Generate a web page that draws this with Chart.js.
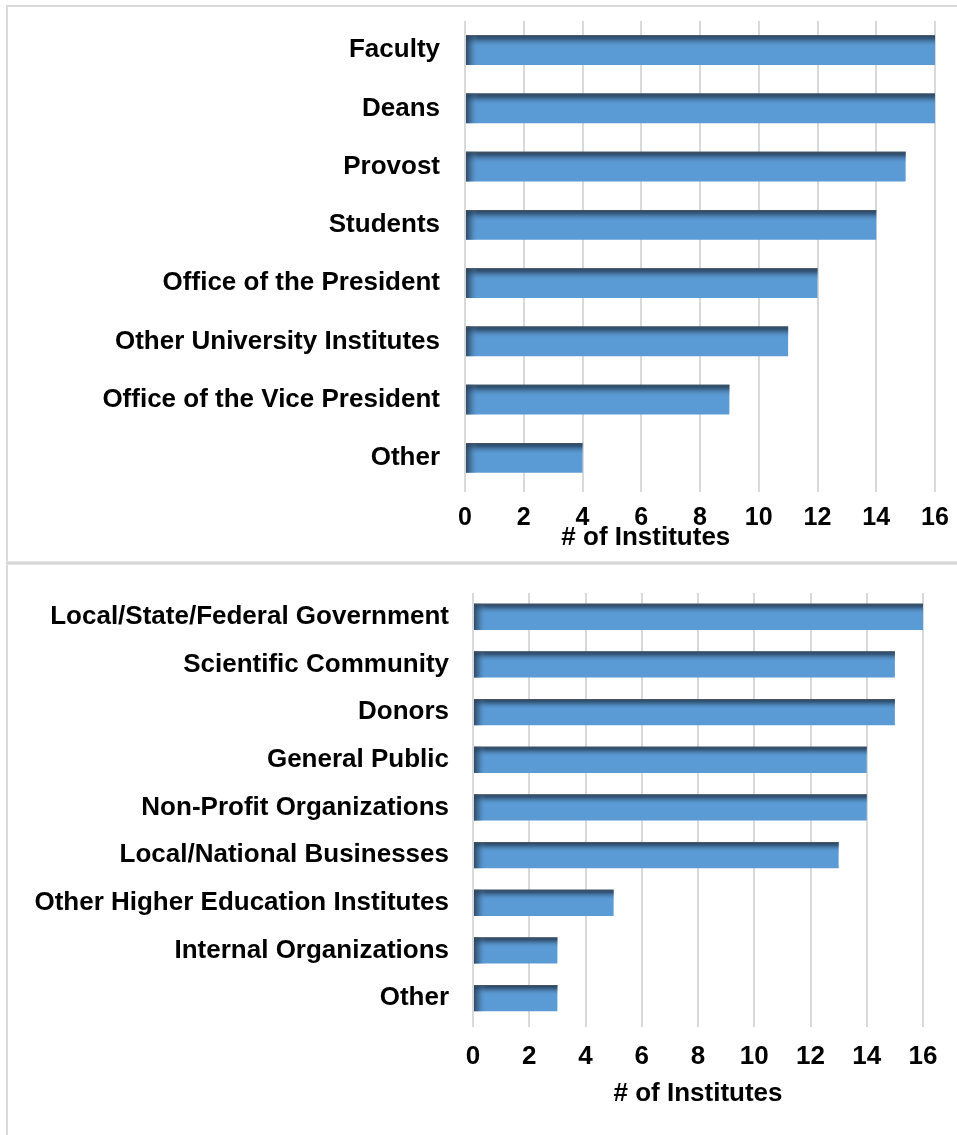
<!DOCTYPE html>
<html>
<head>
<meta charset="utf-8">
<script src="https://cdn.jsdelivr.net/npm/chart.js@4.4.1/dist/chart.umd.min.js"></script>
<style>
  body { margin: 0; background: #fff; }
  #page { position: relative; width: 957px; height: 1135px; overflow: hidden; }
  .line { position: absolute; background: #d9d9d9; }
  canvas { position: absolute; }
</style>
</head>
<body>
<div id="page">
  <div class="line" style="left:6px;top:5px;width:2px;height:1130px;"></div>
  <div class="line" style="left:6px;top:5px;width:951px;height:2px;"></div>
  <div class="line" style="left:6px;top:561px;width:951px;height:4px;background:#e4e4e4;"></div>
  <div class="line" style="left:6px;top:562px;width:951px;height:2px;background:#d6d6d6;"></div>
  <canvas id="topChart" style="left:8px;top:7px;"></canvas>
  <canvas id="bottomChart" style="left:8px;top:566px;"></canvas>
</div>
<script>
// Chart 1: internal stakeholders
const internalLabels = ['Faculty', 'Deans', 'Provost', 'Students', 'Office of the President',
  'Other University Institutes', 'Office of the Vice President', 'Other'];
const internalValues = [16, 16, 15, 14, 12, 11, 9, 4];

// Chart 2: external stakeholders
const externalLabels = ['Local/State/Federal Government', 'Scientific Community', 'Donors',
  'General Public', 'Non-Profit Organizations', 'Local/National Businesses',
  'Other Higher Education Institutes', 'Internal Organizations', 'Other'];
const externalValues = [16, 15, 15, 14, 14, 13, 5, 3, 3];

const xTicks = [0, 2, 4, 6, 8, 10, 12, 14, 16];
const axisTitle = '# of Institutes';

const BAR_BLUE = '#5b9bd5';
const GRID = '#d9d9d9';
const FONT = '"Liberation Sans", Arial, sans-serif';

// Office-style shading on each bar: dark top edge and dark left edge
const barShade = {
  id: 'barShade',
  afterDatasetsDraw(chart) {
    const ctx = chart.ctx;
    chart.getDatasetMeta(0).data.forEach(bar => {
      const left = Math.min(bar.x, bar.base);
      const right = Math.max(bar.x, bar.base);
      const top = bar.y - bar.height / 2;
      const h = bar.height;
      const w = right - left;
      ctx.save();
      let g = ctx.createLinearGradient(0, top, 0, top + h);
      g.addColorStop(0, 'rgba(40,66,94,1)');
      g.addColorStop(0.12, 'rgba(48,80,112,0.85)');
      g.addColorStop(0.4, 'rgba(91,155,213,0)');
      g.addColorStop(1, 'rgba(91,155,213,0)');
      ctx.fillStyle = g;
      ctx.fillRect(left, top, w, h);
      g = ctx.createLinearGradient(left, 0, left + 12, 0);
      g.addColorStop(0, 'rgba(40,66,94,0.9)');
      g.addColorStop(0.4, 'rgba(48,80,112,0.5)');
      g.addColorStop(1, 'rgba(91,155,213,0)');
      ctx.fillStyle = g;
      ctx.fillRect(left, top, Math.min(12, w), h);
      ctx.strokeStyle = 'rgba(90,90,90,0.6)';
      ctx.lineWidth = 1;
      ctx.beginPath();
      ctx.moveTo(left, top + 0.5);
      ctx.lineTo(right, top + 0.5);
      ctx.stroke();
      ctx.restore();
    });
  }
};

function makeChart(id, cfg) {
  const canvas = document.getElementById(id);
  canvas.width = cfg.width;
  canvas.height = cfg.height;
  canvas.style.width = cfg.width + 'px';
  canvas.style.height = cfg.height + 'px';

  return new Chart(canvas.getContext('2d'), {
    type: 'bar',
    data: {
      labels: cfg.labels,
      datasets: [{
        data: cfg.values,
        backgroundColor: BAR_BLUE,
        borderWidth: 0,
        categoryPercentage: 1,
        barPercentage: cfg.barPct
      }]
    },
    options: {
      indexAxis: 'y',
      responsive: false,
      animation: false,
      layout: { padding: { left: 0, right: cfg.padRight, top: cfg.padTop, bottom: 0 } },
      plugins: { legend: { display: false }, tooltip: { enabled: false } },
      scales: {
        x: {
          min: 0,
          max: 16,
          afterBuildTicks: axis => { axis.ticks = xTicks.map(v => ({ value: v })); },
          afterFit: axis => {
            axis.height = cfg.xHeight;
            axis.paddingLeft = 0;
            axis.paddingRight = 0;
          },
          grid: { color: GRID, lineWidth: 2, tickLength: 5, drawTicks: true },
          border: { display: false },
          ticks: {
            color: '#000',
            padding: cfg.tickPad,
            font: { family: FONT, size: cfg.tickSize, weight: 'bold', lineHeight: 1 }
          },
          title: {
            display: true,
            // trailing no-break spaces nudge the centred title left, as in the original
            text: axisTitle + '\u00a0'.repeat(cfg.titleShift || 0),
            color: '#000',
            padding: { top: 0, bottom: cfg.titlePad },
            font: { family: FONT, size: cfg.titleSize, weight: 'bold', lineHeight: 1 }
          }
        },
        y: {
          afterFit: axis => {
            axis.width = cfg.yWidth;
            axis.paddingTop = 0;
            axis.paddingBottom = 0;
          },
          grid: { display: false },
          border: { display: false },
          ticks: {
            color: '#000',
            padding: cfg.labelPad,
            font: { family: FONT, size: cfg.labelSize, weight: 'bold' }
          }
        }
      }
    },
    plugins: [barShade]
  });
}

makeChart('topChart', {
  labels: internalLabels, values: internalValues,
  width: 949, height: 553,
  yWidth: 457, xHeight: 73, padRight: 22, padTop: 14,
  barPct: 0.51,
  tickSize: 25, titleSize: 26, tickPad: 14, titlePad: 9, titleShift: 15,
  labelSize: 26, labelPad: 17
});

makeChart('bottomChart', {
  labels: externalLabels, values: externalValues,
  width: 949, height: 569,
  yWidth: 465, xHeight: 113, padRight: 34, padTop: 27,
  barPct: 0.55,
  tickSize: 26, titleSize: 26, tickPad: 17, titlePad: 28,
  labelSize: 26, labelPad: 16
});
</script>
</body>
</html>
